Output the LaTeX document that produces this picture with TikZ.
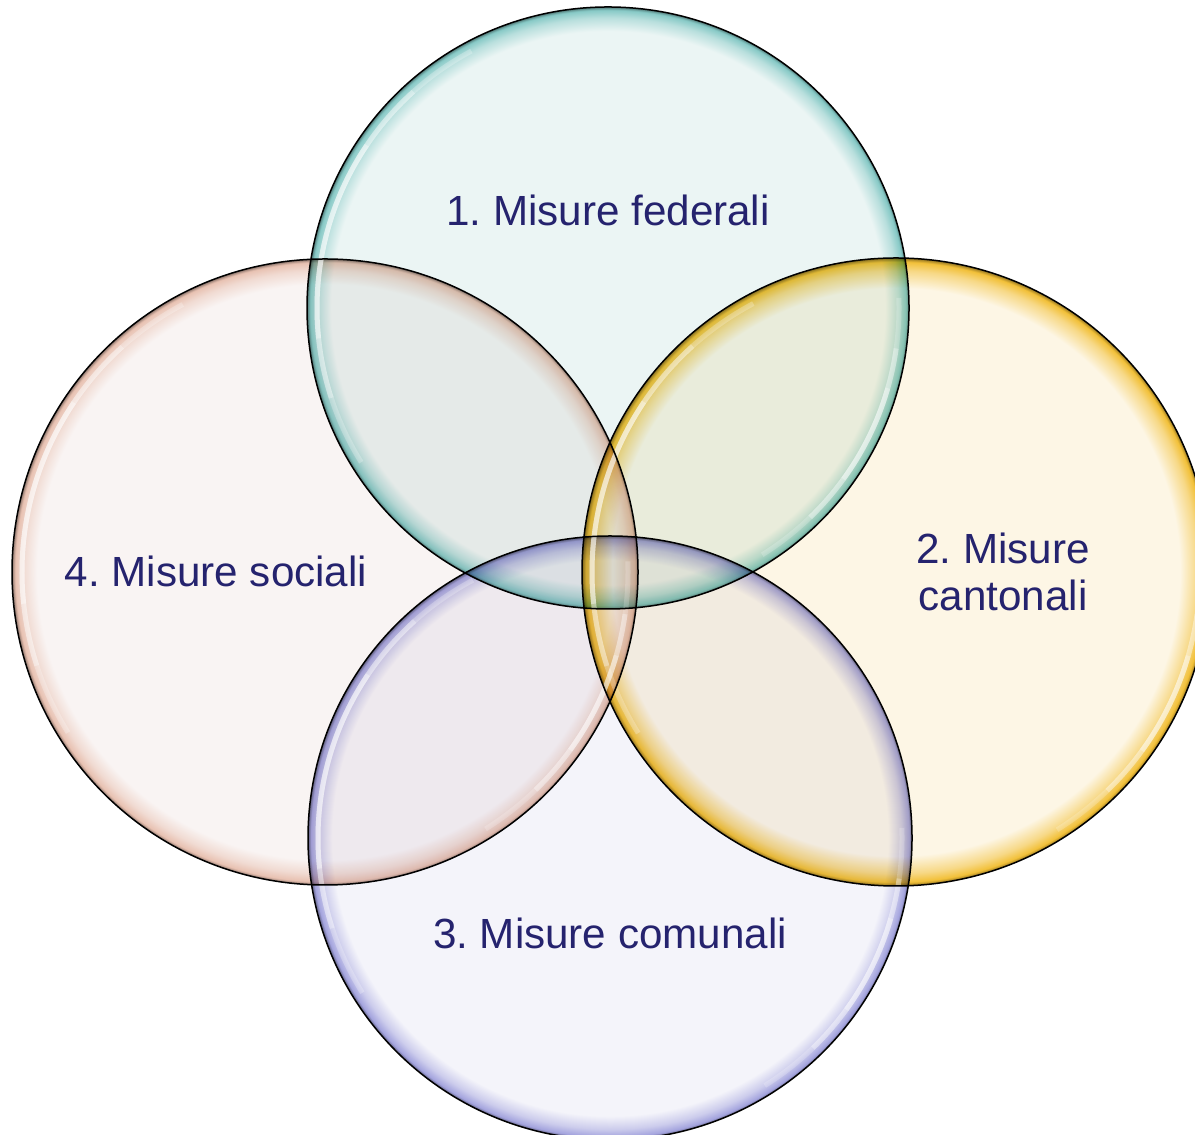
\documentclass[tikz,border=0pt]{standalone}
\usepackage{fontspec}
\setmainfont{Liberation Sans}
\frenchspacing

\definecolor{ink}{HTML}{25236E}
\definecolor{fedfill}{HTML}{EBF5F4}
\definecolor{fededge}{HTML}{86C9C6}
\definecolor{cantfill}{HTML}{FDF6E5}
\definecolor{cantedge}{HTML}{F2C038}
\definecolor{comfill}{HTML}{F4F4FA}
\definecolor{comedge}{HTML}{A4A4DE}
\definecolor{socfill}{HTML}{F9F4F3}
\definecolor{socedge}{HTML}{E8C1B1}

% glassy rim: flat inside, coloured glow near the edge (edge = 25bp)
\pgfdeclareradialshading{glowfed}{\pgfpoint{0bp}{0bp}}{color(0bp)=(fedfill); color(23bp)=(fedfill);
  color(24.1bp)=(fedfill!50!fededge); color(24.75bp)=(fededge); color(25bp)=(fededge!60!black); color(50bp)=(fededge!60!black)}
\pgfdeclareradialshading{glowcant}{\pgfpoint{0bp}{0bp}}{color(0bp)=(cantfill); color(22.6bp)=(cantfill);
  color(24bp)=(cantfill!45!cantedge); color(24.7bp)=(cantedge); color(25bp)=(cantedge!60!black); color(50bp)=(cantedge!60!black)}
\pgfdeclareradialshading{glowcom}{\pgfpoint{0bp}{0bp}}{color(0bp)=(comfill); color(23bp)=(comfill);
  color(24.1bp)=(comfill!50!comedge); color(24.75bp)=(comedge); color(25bp)=(comedge!60!black); color(50bp)=(comedge!60!black)}
\pgfdeclareradialshading{glowsoc}{\pgfpoint{0bp}{0bp}}{color(0bp)=(socfill); color(23bp)=(socfill);
  color(24.1bp)=(socfill!50!socedge); color(24.75bp)=(socedge); color(25bp)=(socedge!60!black); color(50bp)=(socedge!60!black)}

\tikzset{
  rim/.style={draw=black, line width=0.15mm},
  shine/.style={white, line width=0.5mm},
  label/.style={text=ink, font=\fontsize{12}{13.2}\selectfont, align=center}
}

% #1 centre name, #2 radius: soft white streaks inside the rim
\newcommand\shineon[2]{%
  \foreach \a/\b/\o in {118/212/0.25, 132/198/0.3, 146/186/0.35, 2/-58/0.2, -8/-46/0.3, -16/-36/0.3}
    \draw[shine, opacity=\o] ([shift={(\a:{#2-10})}]#1) arc (\a:\b:{#2-10});
}

\begin{document}
\begin{tikzpicture}[x=0.1mm,y=0.1mm]
\useasboundingbox (0,0) rectangle (1195,1134);

\coordinate (cfed) at (608,826);
\coordinate (ccant) at (896,562);
\coordinate (ccom) at (610,296);
\coordinate (csoc) at (325,562);

% the four bubbles, multiplied so the overlaps get darker
\shade[shading=glowsoc, blend mode=multiply] (csoc) circle (313);
\shade[shading=glowfed, blend mode=multiply] (cfed) circle (301);
\shade[shading=glowcom, blend mode=multiply] (ccom) circle (302);
\shade[shading=glowcant, blend mode=multiply] (ccant) circle (314);

\shineon{csoc}{313}
\shineon{cfed}{301}
\shineon{ccom}{302}
\shineon{ccant}{314}

\draw[rim] (csoc) circle (313);
\draw[rim] (cfed) circle (301);
\draw[rim] (ccom) circle (302);
\draw[rim] (ccant) circle (314);

\node[label] (fed) at (608,924) {1. Misure federali};
\node[label] (cant) at (1003,562) {2. Misure\\cantonali};
\node[label] (com) at (610,201) {3. Misure comunali};
\node[label] (soc) at (216,563) {4. Misure sociali};

\end{tikzpicture}
\end{document}
